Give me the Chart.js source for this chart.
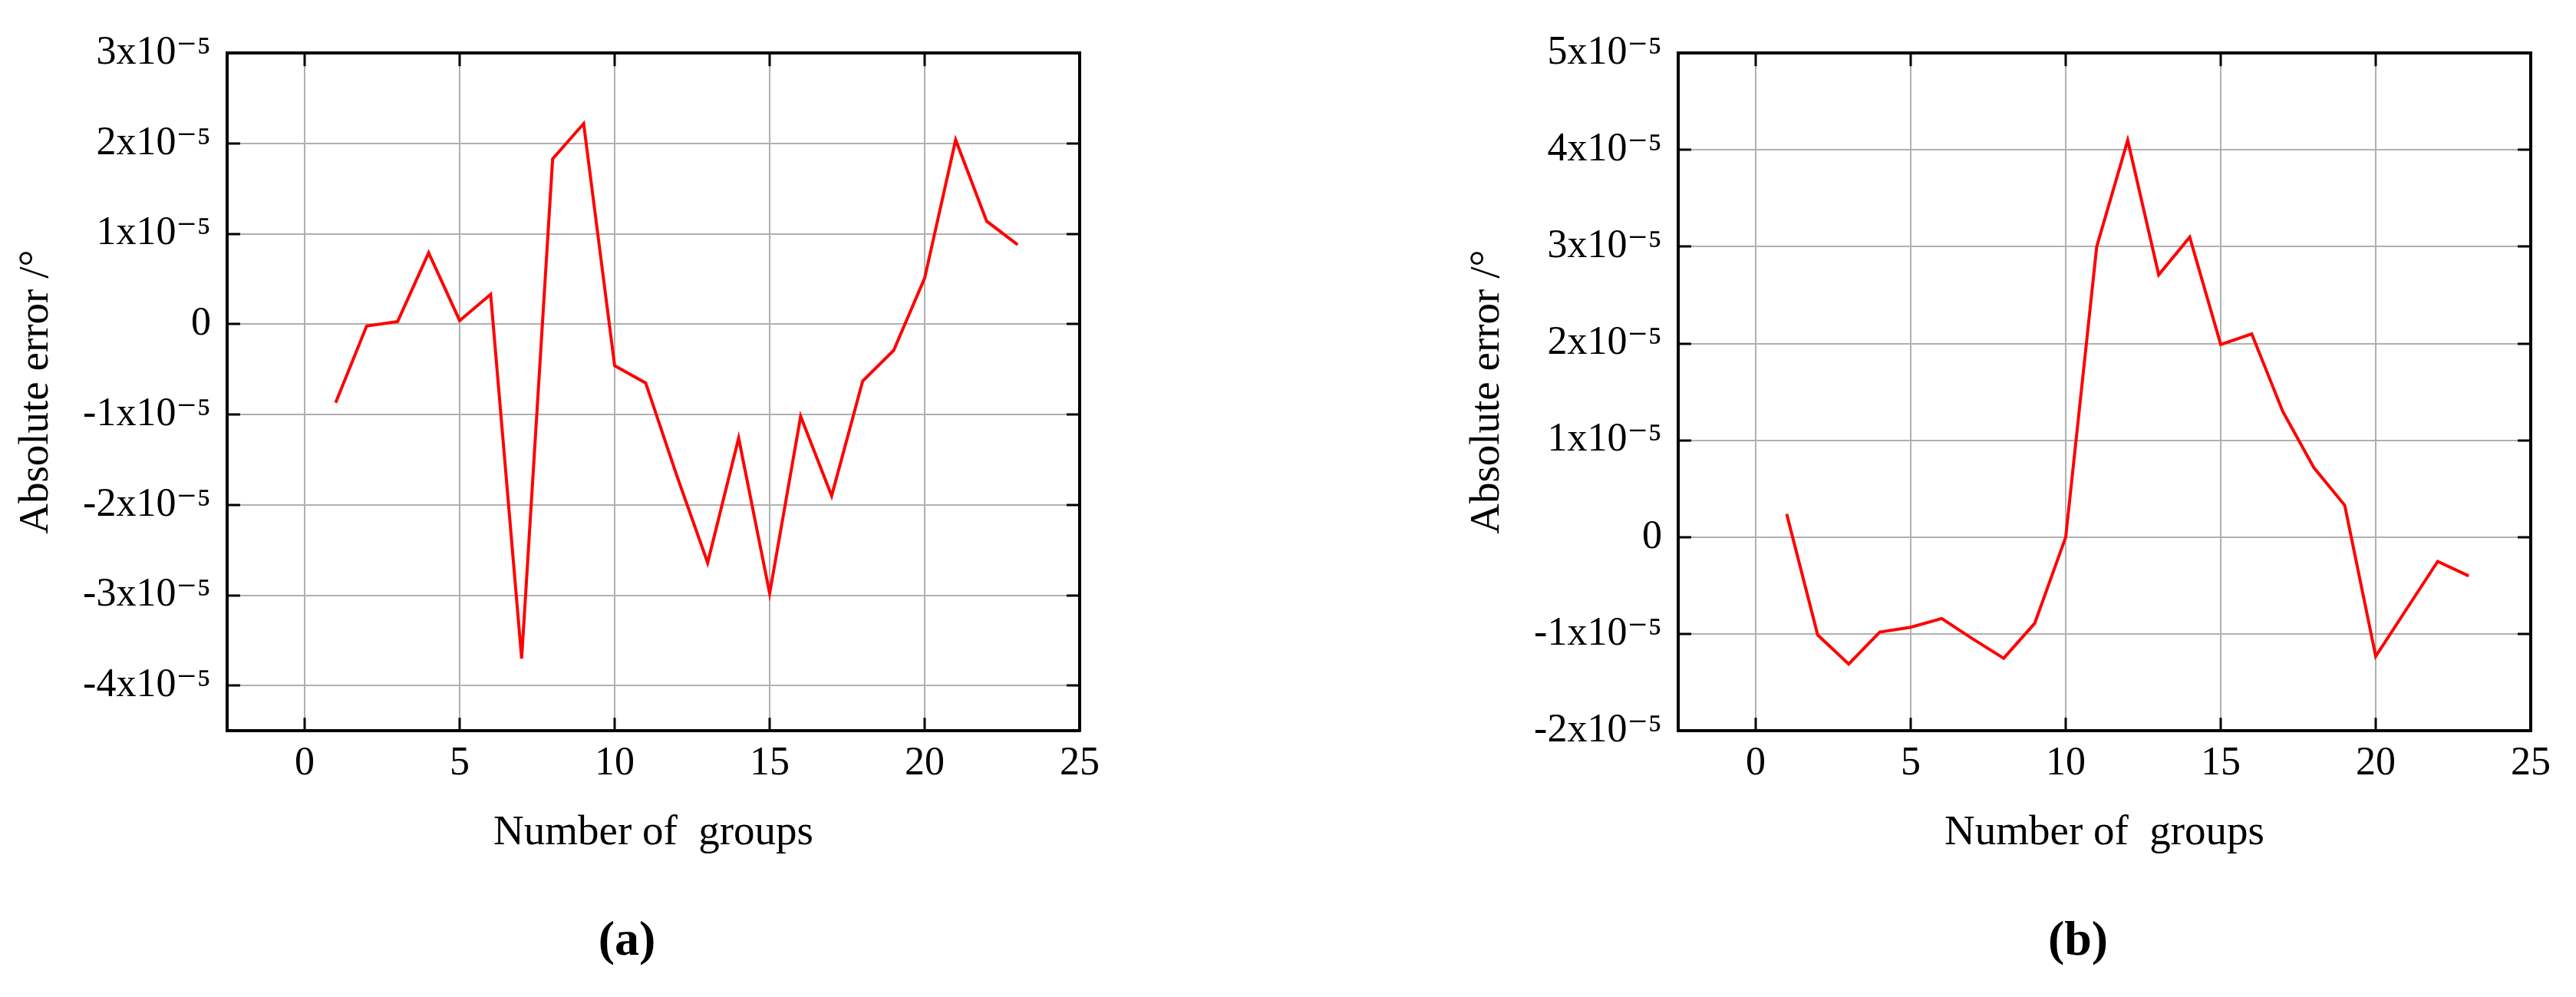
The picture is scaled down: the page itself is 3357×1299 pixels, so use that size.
<!DOCTYPE html>
<html>
<head>
<meta charset="utf-8">
<script src="https://cdn.jsdelivr.net/npm/chart.js@4.4.1/dist/chart.umd.min.js"></script>
<style>
  html, body { margin: 0; padding: 0; background: #ffffff; overflow: hidden; width: 3357px; height: 1299px; }
  canvas.panel { position: absolute; top: 0; }
</style>
</head>
<body>
<canvas id="chartA" class="panel" width="1634" height="1299" style="left:0px;width:1634px;height:1299px"></canvas>
<canvas id="chartB" class="panel" width="1634" height="1299" style="left:1891px;width:1634px;height:1299px"></canvas>
<script>
// ---- data ----
const groups = [1, 2, 3, 4, 5, 6, 7, 8, 9, 10, 11, 12, 13, 14, 15, 16, 17, 18, 19, 20, 21, 22, 23];

// panel (a): absolute error in degrees
const errorA = [
  -0.87e-5, -0.02e-5, 0.03e-5, 0.79e-5, 0.04e-5, 0.33e-5, -3.70e-5, 1.83e-5, 2.22e-5, -0.46e-5,
  -0.65e-5, -1.67e-5, -2.64e-5, -1.26e-5, -2.98e-5, -1.02e-5, -1.90e-5, -0.63e-5, -0.29e-5, 0.51e-5,
  2.04e-5, 1.14e-5, 0.88e-5
];

// panel (b): absolute error in degrees
const errorB = [
  0.24e-5, -1.01e-5, -1.31e-5, -0.98e-5, -0.93e-5, -0.84e-5, -1.05e-5, -1.25e-5, -0.89e-5, 0.00e-5,
  3.00e-5, 4.10e-5, 2.71e-5, 3.10e-5, 1.99e-5, 2.10e-5, 1.30e-5, 0.72e-5, 0.33e-5, -1.23e-5,
  -0.74e-5, -0.25e-5, -0.40e-5
];

// axis ranges and tick values
const xRange = [-2.5, 25];
const xTickValues = [0, 5, 10, 15, 20, 25];
const yRangeA = [-4.5e-5, 3e-5];
const yTickValuesA = [-4e-5, -3e-5, -2e-5, -1e-5, 0, 1e-5, 2e-5, 3e-5];
const yRangeB = [-2e-5, 5e-5];
const yTickValuesB = [-2e-5, -1e-5, 0, 1e-5, 2e-5, 3e-5, 4e-5, 5e-5];

const xTitle = 'Number of  groups';
const yTitle = 'Absolute error /\u00B0';
const panelLabels = ['(a)', '(b)'];

// ---- chart construction ----
const FONT = "'Liberation Serif', 'Times New Roman', 'DejaVu Serif', serif";
Chart.defaults.font.family = FONT;
Chart.defaults.color = '#000000';

function sciLabel(value) {
  const n = Math.round(value / 1e-5);
  if (n === 0) return '0';
  return n + 'x10\u207B\u2075';
}

function setTicks(values) {
  return function (scale) { scale.ticks = values.map(v => ({ value: v })); };
}

const gridStyle = {
  color: '#b0b0b0',
  lineWidth: 2,
  drawTicks: true,
  tickLength: -17,
  tickColor: '#000000',
  tickWidth: 3
};
const borderStyle = { display: true, color: '#000000', width: 4 };

function makeChart(canvasId, values, yRange, yTicks, label) {
  const ctx = document.getElementById(canvasId).getContext('2d');
  return new Chart(ctx, {
    type: 'line',
    data: {
      datasets: [{
        data: groups.map((g, i) => ({ x: g, y: values[i] })),
        borderColor: '#ff0000',
        borderWidth: 4,
        pointRadius: 0,
        pointHoverRadius: 0,
        tension: 0,
        fill: false
      }]
    },
    options: {
      responsive: false,
      animation: false,
      devicePixelRatio: 1,
      layout: { padding: { left: 0, top: 60, right: 0, bottom: 33 } },
      plugins: {
        legend: { display: false },
        tooltip: { enabled: false },
        title: {
          display: true,
          text: label,
          position: 'bottom',
          font: { family: FONT, size: 64, weight: 'bold' },
          color: '#000000',
          padding: 0
        }
      },
      scales: {
        x: {
          type: 'linear',
          position: 'bottom',
          min: xRange[0],
          max: xRange[1],
          afterBuildTicks: setTicks(xTickValues),
          afterFit: s => { s.height = 237; },
          grid: gridStyle,
          border: borderStyle,
          ticks: {
            font: { family: FONT, size: 52 },
            color: '#000000',
            padding: 29,
            maxRotation: 0,
            autoSkip: false,
            callback: v => String(v)
          },
          title: {
            display: true,
            text: xTitle,
            font: { family: FONT, size: 55 },
            color: '#000000',
            padding: { top: 0, bottom: 71 }
          }
        },
        y: {
          type: 'linear',
          position: 'left',
          min: yRange[0],
          max: yRange[1],
          afterBuildTicks: setTicks(yTicks),
          afterFit: s => { s.width = 296; },
          grid: gridStyle,
          border: borderStyle,
          ticks: {
            font: { family: FONT, size: 52 },
            color: '#000000',
            padding: 38,
            autoSkip: false,
            callback: sciLabel
          },
          title: {
            display: true,
            text: yTitle,
            font: { family: FONT, size: 55 },
            color: '#000000',
            padding: { top: 14.5, bottom: 0 }
          }
        },
        xTop: {
          type: 'linear',
          position: 'top',
          min: xRange[0],
          max: xRange[1],
          afterBuildTicks: setTicks(xTickValues),
          afterFit: s => { s.height = 0; },
          grid: Object.assign({}, gridStyle, { drawOnChartArea: false }),
          border: borderStyle,
          ticks: { display: false }
        },
        yRight: {
          type: 'linear',
          position: 'right',
          min: yRange[0],
          max: yRange[1],
          afterBuildTicks: setTicks(yTicks),
          afterFit: s => { s.width = 227; },
          grid: Object.assign({}, gridStyle, { drawOnChartArea: false }),
          border: borderStyle,
          ticks: { display: false }
        }
      }
    }
  });
}

makeChart('chartA', errorA, yRangeA, yTickValuesA, panelLabels[0]);
makeChart('chartB', errorB, yRangeB, yTickValuesB, panelLabels[1]);
</script>
</body>
</html>
